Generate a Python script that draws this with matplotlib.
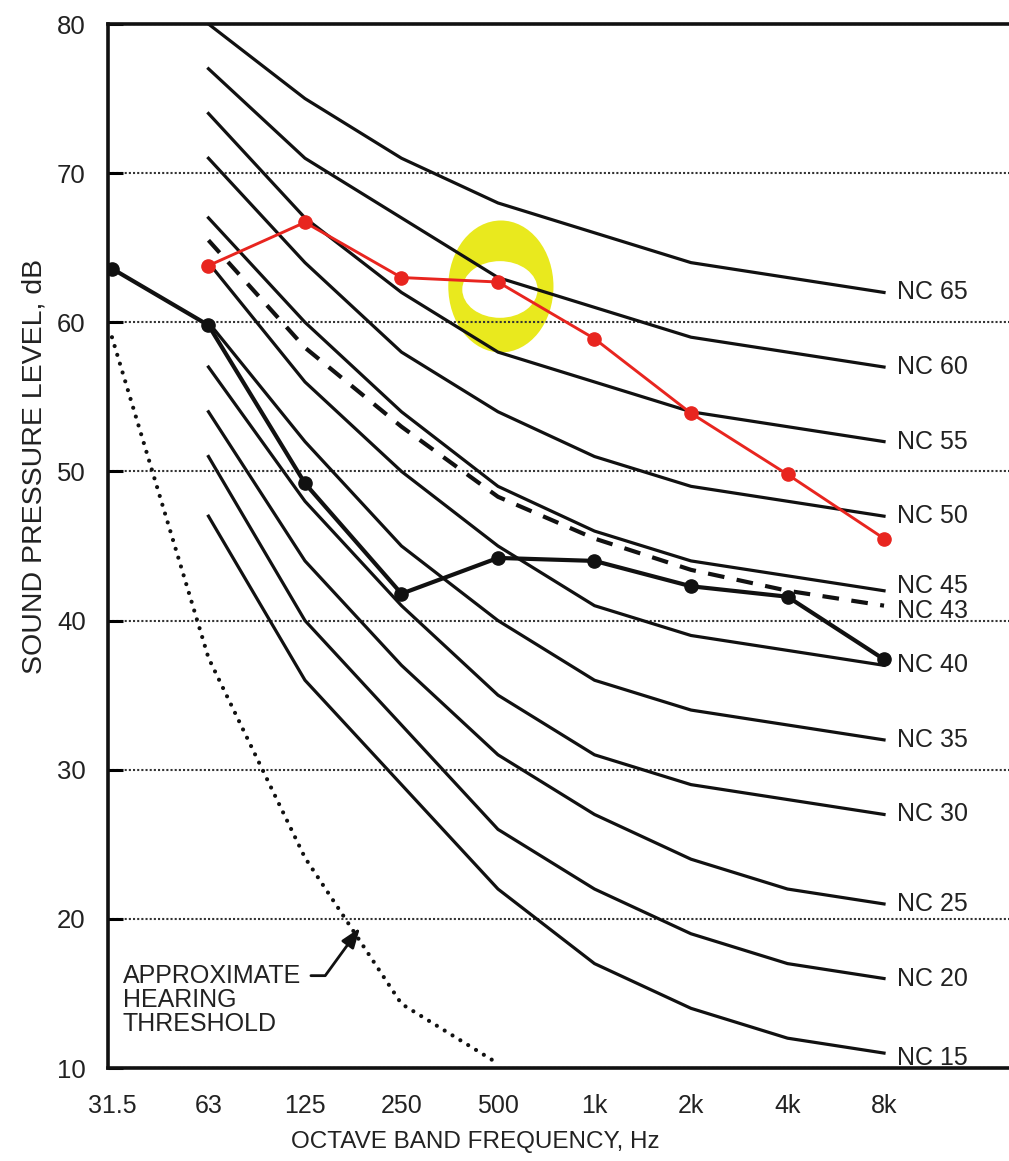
import matplotlib
matplotlib.use("Agg")
import matplotlib.pyplot as plt
from matplotlib.patches import Ellipse
import numpy as np

plt.rcParams['font.family'] = ['Liberation Sans', 'DejaVu Sans']

# ---------------- data ----------------
freq_labels = ["31.5", "63", "125", "250", "500", "1k", "2k", "4k", "8k"]
pos = np.arange(len(freq_labels))

# NC curves (63 Hz .. 8 kHz)
nc_names = ["NC 15", "NC 20", "NC 25", "NC 30", "NC 35", "NC 40",
            "NC 45", "NC 50", "NC 55", "NC 60", "NC 65"]
nc15 = [47, 36, 29, 22, 17, 14, 12, 11]
nc20 = [51, 40, 33, 26, 22, 19, 17, 16]
nc25 = [54, 44, 37, 31, 27, 24, 22, 21]
nc30 = [57, 48, 41, 35, 31, 29, 28, 27]
nc35 = [60, 52, 45, 40, 36, 34, 33, 32]
nc40 = [64, 56, 50, 45, 41, 39, 38, 37]
nc45 = [67, 60, 54, 49, 46, 44, 43, 42]
nc50 = [71, 64, 58, 54, 51, 49, 48, 47]
nc55 = [74, 67, 62, 58, 56, 54, 53, 52]
nc60 = [77, 71, 67, 63, 61, 59, 58, 57]
nc65 = [80, 75, 71, 68, 66, 64, 63, 62]
nc_curves = [nc15, nc20, nc25, nc30, nc35, nc40, nc45, nc50, nc55, nc60, nc65]

# dashed NC 43 (63 Hz .. 8 kHz)
nc43 = [65.5, 58.3, 53.0, 48.3, 45.5, 43.4, 42.0, 41.0]

# measured spectrum (black), 31.5 Hz .. 8 kHz
measured = [63.6, 59.8, 49.2, 41.8, 44.2, 44.0, 42.3, 41.6, 37.4]

# red spectrum, 63 Hz .. 8 kHz
red = [63.8, 66.7, 63.0, 62.7, 58.9, 53.9, 49.8, 45.5]

# approximate hearing threshold, 31.5 .. 500 Hz
threshold = [59.0, 37.5, 24.1, 14.3, 10.3]

yticks = [10, 20, 30, 40, 50, 60, 70, 80]

# ---------------- figure ----------------
fig = plt.figure(figsize=(10.09, 11.61), dpi=100)
ax = fig.add_axes([108 / 1009, 1 - 1068 / 1161, 1 - 108 / 1009, (1068 - 24) / 1161])

ax.set_xlim(-0.041, 9.295)
ax.set_ylim(10, 80)

# highlighter ring around the 500 Hz red point
i500 = 4
ax.add_patch(Ellipse((pos[i500] + 0.03, red[3] - 0.3), 1.09, 8.85,
                     facecolor='#e9e91e', edgecolor='none', zorder=0.1))
ax.add_patch(Ellipse((pos[i500] + 0.02, red[3] - 0.5), 0.78, 3.8,
                     facecolor='white', edgecolor='none', zorder=0.2))

# NC curves
for vals in nc_curves:
    ax.plot(pos[1:], vals, color='#111111', lw=2.3, zorder=2,
            solid_joinstyle='round')
ax.plot(pos[1:], nc43, color='#111111', lw=3.0, dashes=(4, 3), zorder=2)

# labels at the right end
label_shift = {"NC 15": -0.3, "NC 45": 0.3}
for name, vals in zip(nc_names, nc_curves):
    yoff = label_shift.get(name, 0)
    ax.annotate(name, xy=(pos[-1], vals[-1] + yoff), xytext=(9, 0),
                textcoords='offset points', va='center', ha='left',
                fontsize=18, color='#222222', annotation_clip=False)
ax.annotate("NC 43", xy=(pos[-1], nc43[-1] - 0.35), xytext=(9, 0),
            textcoords='offset points', va='center', ha='left',
            fontsize=18, color='#222222', annotation_clip=False)

# hearing threshold
ax.plot(pos[:len(threshold)], threshold, color='#111111', lw=3.0,
        dashes=(0.01, 2.2), dash_capstyle='round', zorder=2)

# measured black spectrum
ax.plot(pos, measured, color='#111111', lw=3.0, marker='o', ms=9.5,
        zorder=3)

# red spectrum
ax.plot(pos[1:], red, color='#e8251f', lw=2.1, marker='o', ms=9.5,
        zorder=4)

# annotation
ax.annotate("APPROXIMATE\nHEARING\nTHRESHOLD",
            xy=(2.57, 19.4), xytext=(0.114, 14.55),
            textcoords='data', ha='left', va='center', fontsize=18,
            linespacing=1.0, color='#222222',
            arrowprops=dict(arrowstyle='-|>,head_length=0.6,head_width=0.22',
                            mutation_scale=20, color='#111111', lw=2.0,
                            connectionstyle='angle,angleA=0,angleB=54,rad=0',
                            relpos=(1.0, 0.84), shrinkA=5, shrinkB=0))

# axes styling
ax.set_xticks(pos)
ax.set_xticklabels(freq_labels)
ax.set_xticks(pos[1:], minor=True)
ax.set_yticks(yticks)
ax.tick_params(axis='x', which='both', length=0, pad=19, labelsize=18,
               labelcolor='#222222')
ax.tick_params(axis='y', which='major', direction='in', length=11, width=2.2,
               pad=16, labelsize=18.5, labelcolor='#222222')

ax.set_axisbelow(True)
ax.grid(False)
ax.grid(True, which='minor', axis='x', color='#444444', lw=1.4,
        linestyle=(0, (1, 1)))
ax.grid(True, which='major', axis='y', color='#333333', lw=1.5,
        linestyle=(0, (1, 1)))

for side in ['left', 'bottom', 'top']:
    ax.spines[side].set_linewidth(2.6)
    ax.spines[side].set_color('#111111')
ax.spines['right'].set_visible(False)

ax.set_xlabel("OCTAVE BAND FREQUENCY, Hz", fontsize=17.5, color='#222222')
ax.xaxis.set_label_coords(0.408, -0.060)
ax.set_ylabel("SOUND PRESSURE LEVEL, dB", fontsize=20.5, color='#222222')
ax.yaxis.label.set_va('center')
ax.yaxis.set_label_coords(-0.082, 0.576)

fig.savefig("out.png", dpi=100)
